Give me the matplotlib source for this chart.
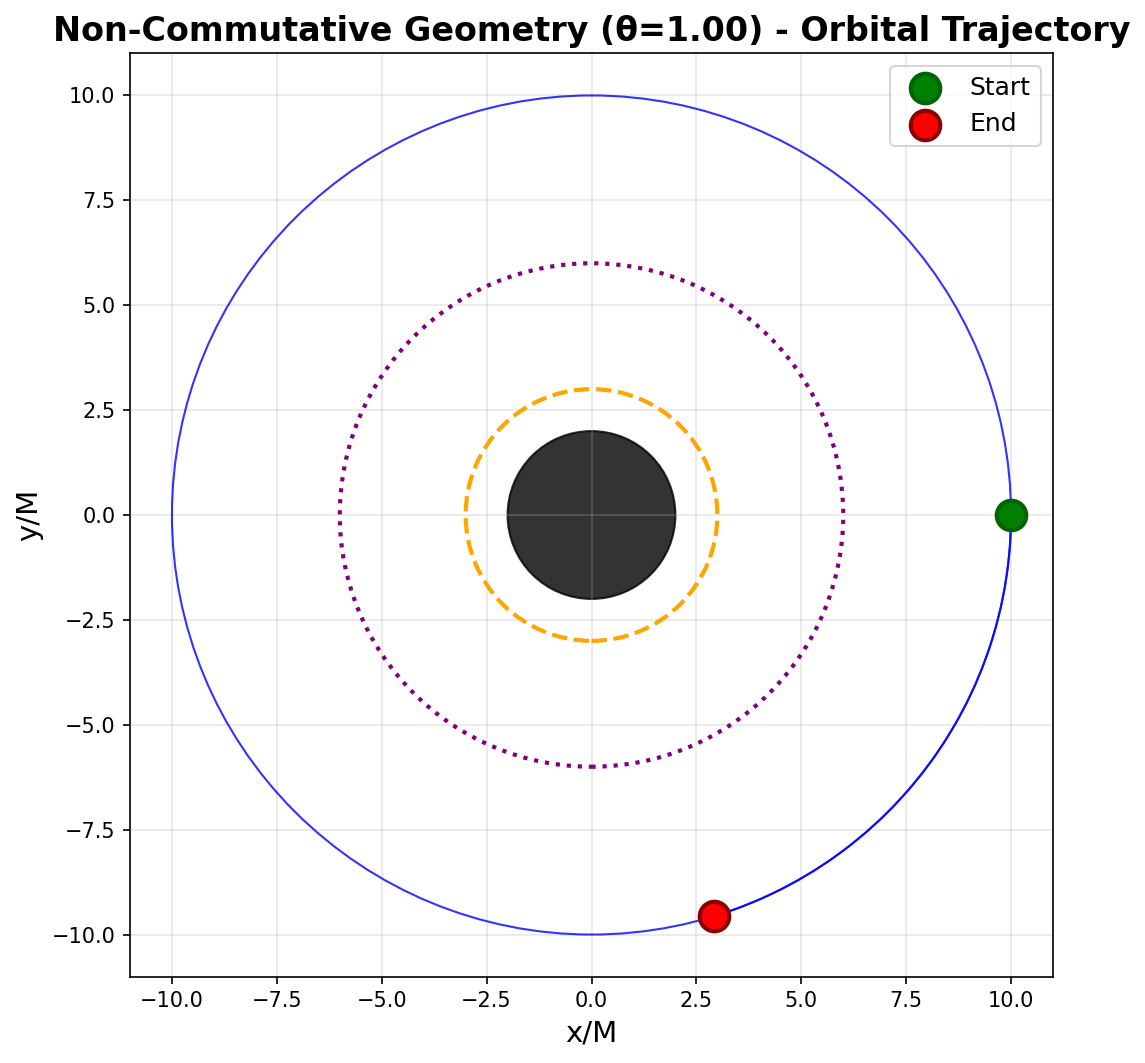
import matplotlib.pyplot as plt
import numpy as np
from matplotlib.patches import Circle, Arc

# Orbit parameters
theta_nc = 1.00
orbit_radius = 10.0
horizon_radius = 2.0
photon_radius = 3.0
isco_radius = 6.0
start_point = [10.0, 0.0]
end_point = [2.93, -9.56]

fig = plt.figure(figsize=(1145 / 150, 1063 / 150), dpi=150)
ax = fig.add_axes([130 / 1145, 86 / 1063, 923 / 1145, 924 / 1063])

# Trajectory: one full turn, then on to the end point
ax.add_patch(Circle((0, 0), orbit_radius, fill=False, color="blue",
                    alpha=0.8, linewidth=1, zorder=2))
end_angle = np.degrees(np.arctan2(end_point[1], end_point[0]))
ax.add_patch(Arc((0, 0), 2 * orbit_radius, 2 * orbit_radius,
                 theta1=end_angle, theta2=0, color="blue",
                 alpha=0.8, linewidth=1, zorder=2))

# Black hole horizon, photon sphere and ISCO
ax.add_patch(Circle((0, 0), horizon_radius, facecolor="black",
                    edgecolor="black", alpha=0.8, zorder=1))
ax.add_patch(Circle((0, 0), photon_radius, fill=False, color="orange",
                    linestyle="--", linewidth=2, zorder=2))
ax.add_patch(Circle((0, 0), isco_radius, fill=False, color="purple",
                    linestyle=":", linewidth=2, zorder=2))

ax.scatter(start_point[0], start_point[1], s=200, color="green",
           edgecolor="darkgreen", linewidth=2, label="Start", zorder=5)
ax.scatter(end_point[0], end_point[1], s=200, color="red",
           edgecolor="darkred", linewidth=2, label="End", zorder=5)

ax.set_xlim(-11, 11)
ax.set_ylim(-11, 11)
ax.set_aspect("equal")
ax.set_xlabel("x/M", fontsize=14)
ax.set_ylabel("y/M", fontsize=14)
ax.set_title(f"Non-Commutative Geometry (\u03b8={theta_nc:.2f}) - Orbital Trajectory",
             fontsize=16, fontweight="bold")
ax.grid(True, alpha=0.3)
ax.legend(fontsize=12)

fig.savefig("out.png", dpi=150)
